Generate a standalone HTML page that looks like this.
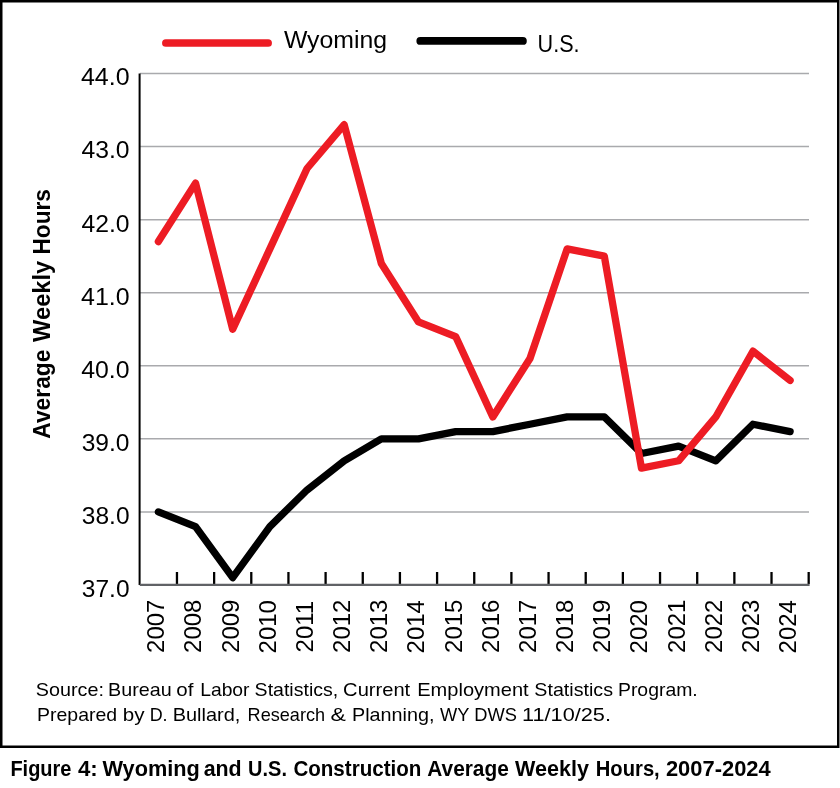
<!DOCTYPE html>
<html><head><meta charset="utf-8"><style>
html,body{margin:0;padding:0;background:#fff;width:840px;height:788px;overflow:hidden}
svg{display:block}
text{font-family:"Liberation Sans",sans-serif;fill:#000}
</style></head><body>
<svg width="840" height="788" viewBox="0 0 840 788">
<rect x="0" y="0" width="840" height="788" fill="#fff"/>
<rect x="1.25" y="1.25" width="837" height="745.5" fill="none" stroke="#000" stroke-width="2.5"/>
<line x1="140" y1="511.93" x2="809" y2="511.93" stroke="#a9aaad" stroke-width="1.5"/>
<line x1="140" y1="438.86" x2="809" y2="438.86" stroke="#a9aaad" stroke-width="1.5"/>
<line x1="140" y1="365.79" x2="809" y2="365.79" stroke="#a9aaad" stroke-width="1.5"/>
<line x1="140" y1="292.72" x2="809" y2="292.72" stroke="#a9aaad" stroke-width="1.5"/>
<line x1="140" y1="219.65" x2="809" y2="219.65" stroke="#a9aaad" stroke-width="1.5"/>
<line x1="140" y1="146.58" x2="809" y2="146.58" stroke="#a9aaad" stroke-width="1.5"/>
<line x1="140" y1="73.51" x2="809" y2="73.51" stroke="#a9aaad" stroke-width="1.5"/>
<line x1="176.96" y1="572" x2="176.96" y2="584" stroke="#000" stroke-width="2.3"/>
<line x1="214.12" y1="572" x2="214.12" y2="584" stroke="#000" stroke-width="2.3"/>
<line x1="251.28" y1="572" x2="251.28" y2="584" stroke="#000" stroke-width="2.3"/>
<line x1="288.44" y1="572" x2="288.44" y2="584" stroke="#000" stroke-width="2.3"/>
<line x1="325.60" y1="572" x2="325.60" y2="584" stroke="#000" stroke-width="2.3"/>
<line x1="362.76" y1="572" x2="362.76" y2="584" stroke="#000" stroke-width="2.3"/>
<line x1="399.92" y1="572" x2="399.92" y2="584" stroke="#000" stroke-width="2.3"/>
<line x1="437.08" y1="572" x2="437.08" y2="584" stroke="#000" stroke-width="2.3"/>
<line x1="474.24" y1="572" x2="474.24" y2="584" stroke="#000" stroke-width="2.3"/>
<line x1="511.40" y1="572" x2="511.40" y2="584" stroke="#000" stroke-width="2.3"/>
<line x1="548.56" y1="572" x2="548.56" y2="584" stroke="#000" stroke-width="2.3"/>
<line x1="585.72" y1="572" x2="585.72" y2="584" stroke="#000" stroke-width="2.3"/>
<line x1="622.88" y1="572" x2="622.88" y2="584" stroke="#000" stroke-width="2.3"/>
<line x1="660.04" y1="572" x2="660.04" y2="584" stroke="#000" stroke-width="2.3"/>
<line x1="697.20" y1="572" x2="697.20" y2="584" stroke="#000" stroke-width="2.3"/>
<line x1="734.36" y1="572" x2="734.36" y2="584" stroke="#000" stroke-width="2.3"/>
<line x1="771.52" y1="572" x2="771.52" y2="584" stroke="#000" stroke-width="2.3"/>
<line x1="808.68" y1="572" x2="808.68" y2="584" stroke="#000" stroke-width="2.3"/>
<line x1="139.6" y1="73.4" x2="139.6" y2="585" stroke="#000" stroke-width="2"/>
<line x1="139.8" y1="584.9" x2="809.6" y2="584.9" stroke="#606266" stroke-width="2.1"/>
<polyline points="158.38,511.93 195.54,526.54 232.70,577.69 269.86,526.54 307.02,490.01 344.18,460.78 381.34,438.86 418.50,438.86 455.66,431.55 492.82,431.55 529.98,424.25 567.14,416.94 604.30,416.94 641.46,453.47 678.62,446.17 715.78,460.78 752.94,424.25 790.10,431.55" fill="none" stroke="#000" stroke-width="7.3" stroke-linejoin="round" stroke-linecap="round"/>
<polyline points="158.38,241.57 195.54,183.12 232.70,329.25 269.86,248.88 307.02,168.50 344.18,124.66 381.34,263.49 418.50,321.95 455.66,336.56 492.82,416.94 529.98,358.48 567.14,248.88 604.30,256.19 641.46,468.09 678.62,460.78 715.78,416.94 752.94,351.18 790.10,380.40" fill="none" stroke="#ed1c24" stroke-width="7.3" stroke-linejoin="round" stroke-linecap="round"/>
<line x1="165.9" y1="43.0" x2="268.1" y2="43.0" stroke="#ed1c24" stroke-width="7.7" stroke-linecap="round"/>
<line x1="420.3" y1="40.9" x2="522.9" y2="40.9" stroke="#000" stroke-width="7.8" stroke-linecap="round"/>
<g style="filter:grayscale(1)">
<text x="283.90" y="47.90" font-size="23" textLength="103.19" lengthAdjust="spacingAndGlyphs">Wyoming</text>
<text x="537.62" y="51.90" font-size="23" textLength="42.01" lengthAdjust="spacingAndGlyphs">U.S.</text>
<text x="35.83" y="696.40" font-size="18.5" textLength="68.05" lengthAdjust="spacingAndGlyphs">Source:</text>
<text x="108.13" y="696.40" font-size="18.5" textLength="63.63" lengthAdjust="spacingAndGlyphs">Bureau</text>
<text x="176.29" y="696.40" font-size="18.5" textLength="17.08" lengthAdjust="spacingAndGlyphs">of</text>
<text x="200.16" y="696.40" font-size="18.5" textLength="49.39" lengthAdjust="spacingAndGlyphs">Labor</text>
<text x="254.64" y="696.40" font-size="18.5" textLength="83.59" lengthAdjust="spacingAndGlyphs">Statistics,</text>
<text x="343.11" y="696.40" font-size="18.5" textLength="67.06" lengthAdjust="spacingAndGlyphs">Current</text>
<text x="417.22" y="696.40" font-size="18.5" textLength="111.40" lengthAdjust="spacingAndGlyphs">Employment</text>
<text x="534.34" y="696.40" font-size="18.5" textLength="78.66" lengthAdjust="spacingAndGlyphs">Statistics</text>
<text x="617.95" y="696.40" font-size="18.5" textLength="79.78" lengthAdjust="spacingAndGlyphs">Program.</text>
<text x="37.05" y="720.90" font-size="18.5" textLength="80.12" lengthAdjust="spacingAndGlyphs">Prepared</text>
<text x="122.89" y="720.90" font-size="18.5" textLength="21.72" lengthAdjust="spacingAndGlyphs">by</text>
<text x="149.63" y="720.90" font-size="18.5" textLength="17.92" lengthAdjust="spacingAndGlyphs">D.</text>
<text x="172.72" y="720.90" font-size="18.5" textLength="67.65" lengthAdjust="spacingAndGlyphs">Bullard,</text>
<text x="247.62" y="720.90" font-size="18.5" textLength="77.44" lengthAdjust="spacingAndGlyphs">Research</text>
<text x="330.45" y="720.90" font-size="18.5" textLength="15.37" lengthAdjust="spacingAndGlyphs">&amp;</text>
<text x="352.03" y="720.90" font-size="18.5" textLength="82.40" lengthAdjust="spacingAndGlyphs">Planning,</text>
<text x="440.10" y="720.90" font-size="18.5" textLength="29.40" lengthAdjust="spacingAndGlyphs">WY</text>
<text x="474.21" y="720.90" font-size="18.5" textLength="42.65" lengthAdjust="spacingAndGlyphs">DWS</text>
<text x="522.03" y="720.90" font-size="18.5" textLength="88.97" lengthAdjust="spacingAndGlyphs">11/10/25.</text>
<text x="10.41" y="776.20" font-size="22.5" font-weight="bold" textLength="61.07" lengthAdjust="spacingAndGlyphs">Figure</text>
<text x="78.00" y="776.20" font-size="22.5" font-weight="bold" textLength="19.79" lengthAdjust="spacingAndGlyphs">4:</text>
<text x="102.50" y="776.20" font-size="22.5" font-weight="bold" textLength="97.38" lengthAdjust="spacingAndGlyphs">Wyoming</text>
<text x="203.65" y="776.20" font-size="22.5" font-weight="bold" textLength="38.01" lengthAdjust="spacingAndGlyphs">and</text>
<text x="248.11" y="776.20" font-size="22.5" font-weight="bold" textLength="38.86" lengthAdjust="spacingAndGlyphs">U.S.</text>
<text x="293.39" y="776.20" font-size="22.5" font-weight="bold" textLength="128.03" lengthAdjust="spacingAndGlyphs">Construction</text>
<text x="427.27" y="776.20" font-size="22.5" font-weight="bold" textLength="81.52" lengthAdjust="spacingAndGlyphs">Average</text>
<text x="515.00" y="776.20" font-size="22.5" font-weight="bold" textLength="73.93" lengthAdjust="spacingAndGlyphs">Weekly</text>
<text x="595.80" y="776.20" font-size="22.5" font-weight="bold" textLength="63.93" lengthAdjust="spacingAndGlyphs">Hours,</text>
<text x="665.93" y="776.20" font-size="22.5" font-weight="bold" textLength="104.79" lengthAdjust="spacingAndGlyphs">2007-2024</text>
<text transform="translate(50.20,0) rotate(-90)" x="-438.63" y="0" font-size="24.5" font-weight="bold" textLength="88.97" lengthAdjust="spacingAndGlyphs">Average</text>
<text transform="translate(50.20,0) rotate(-90)" x="-341.90" y="0" font-size="24.5" font-weight="bold" textLength="81.10" lengthAdjust="spacingAndGlyphs">Weekly</text>
<text transform="translate(50.20,0) rotate(-90)" x="-254.55" y="0" font-size="24.5" font-weight="bold" textLength="65.49" lengthAdjust="spacingAndGlyphs">Hours</text>
<text x="81.83" y="596.90" font-size="23" textLength="47.68" lengthAdjust="spacingAndGlyphs">37.0</text>
<text x="81.83" y="523.83" font-size="23" textLength="47.68" lengthAdjust="spacingAndGlyphs">38.0</text>
<text x="81.73" y="450.76" font-size="23" textLength="47.78" lengthAdjust="spacingAndGlyphs">39.0</text>
<text x="81.22" y="377.69" font-size="23" textLength="48.31" lengthAdjust="spacingAndGlyphs">40.0</text>
<text x="81.02" y="304.62" font-size="23" textLength="48.51" lengthAdjust="spacingAndGlyphs">41.0</text>
<text x="81.43" y="231.55" font-size="23" textLength="48.10" lengthAdjust="spacingAndGlyphs">42.0</text>
<text x="81.43" y="158.48" font-size="23" textLength="48.10" lengthAdjust="spacingAndGlyphs">43.0</text>
<text x="80.91" y="85.41" font-size="23" textLength="48.62" lengthAdjust="spacingAndGlyphs">44.0</text>
<text transform="translate(164.28,0) rotate(-90)" x="-652.90" y="0" font-size="24" textLength="53.29" lengthAdjust="spacingAndGlyphs">2007</text>
<text transform="translate(201.44,0) rotate(-90)" x="-652.90" y="0" font-size="24" textLength="53.29" lengthAdjust="spacingAndGlyphs">2008</text>
<text transform="translate(238.60,0) rotate(-90)" x="-652.90" y="0" font-size="24" textLength="53.29" lengthAdjust="spacingAndGlyphs">2009</text>
<text transform="translate(275.76,0) rotate(-90)" x="-653.40" y="0" font-size="24" textLength="53.29" lengthAdjust="spacingAndGlyphs">2010</text>
<text transform="translate(312.92,0) rotate(-90)" x="-652.40" y="0" font-size="24" textLength="51.51" lengthAdjust="spacingAndGlyphs">2011</text>
<text transform="translate(350.08,0) rotate(-90)" x="-652.90" y="0" font-size="24" textLength="53.29" lengthAdjust="spacingAndGlyphs">2012</text>
<text transform="translate(387.24,0) rotate(-90)" x="-652.90" y="0" font-size="24" textLength="53.29" lengthAdjust="spacingAndGlyphs">2013</text>
<text transform="translate(424.40,0) rotate(-90)" x="-653.40" y="0" font-size="24" textLength="53.29" lengthAdjust="spacingAndGlyphs">2014</text>
<text transform="translate(461.56,0) rotate(-90)" x="-652.90" y="0" font-size="24" textLength="53.29" lengthAdjust="spacingAndGlyphs">2015</text>
<text transform="translate(498.72,0) rotate(-90)" x="-652.90" y="0" font-size="24" textLength="53.29" lengthAdjust="spacingAndGlyphs">2016</text>
<text transform="translate(535.88,0) rotate(-90)" x="-652.90" y="0" font-size="24" textLength="53.29" lengthAdjust="spacingAndGlyphs">2017</text>
<text transform="translate(573.04,0) rotate(-90)" x="-652.90" y="0" font-size="24" textLength="53.29" lengthAdjust="spacingAndGlyphs">2018</text>
<text transform="translate(610.20,0) rotate(-90)" x="-652.90" y="0" font-size="24" textLength="53.29" lengthAdjust="spacingAndGlyphs">2019</text>
<text transform="translate(647.36,0) rotate(-90)" x="-653.40" y="0" font-size="24" textLength="53.29" lengthAdjust="spacingAndGlyphs">2020</text>
<text transform="translate(684.52,0) rotate(-90)" x="-652.90" y="0" font-size="24" textLength="53.29" lengthAdjust="spacingAndGlyphs">2021</text>
<text transform="translate(721.68,0) rotate(-90)" x="-652.90" y="0" font-size="24" textLength="53.29" lengthAdjust="spacingAndGlyphs">2022</text>
<text transform="translate(758.84,0) rotate(-90)" x="-652.90" y="0" font-size="24" textLength="53.29" lengthAdjust="spacingAndGlyphs">2023</text>
<text transform="translate(796.00,0) rotate(-90)" x="-653.40" y="0" font-size="24" textLength="53.29" lengthAdjust="spacingAndGlyphs">2024</text>
</g>
</svg>
</body></html>
